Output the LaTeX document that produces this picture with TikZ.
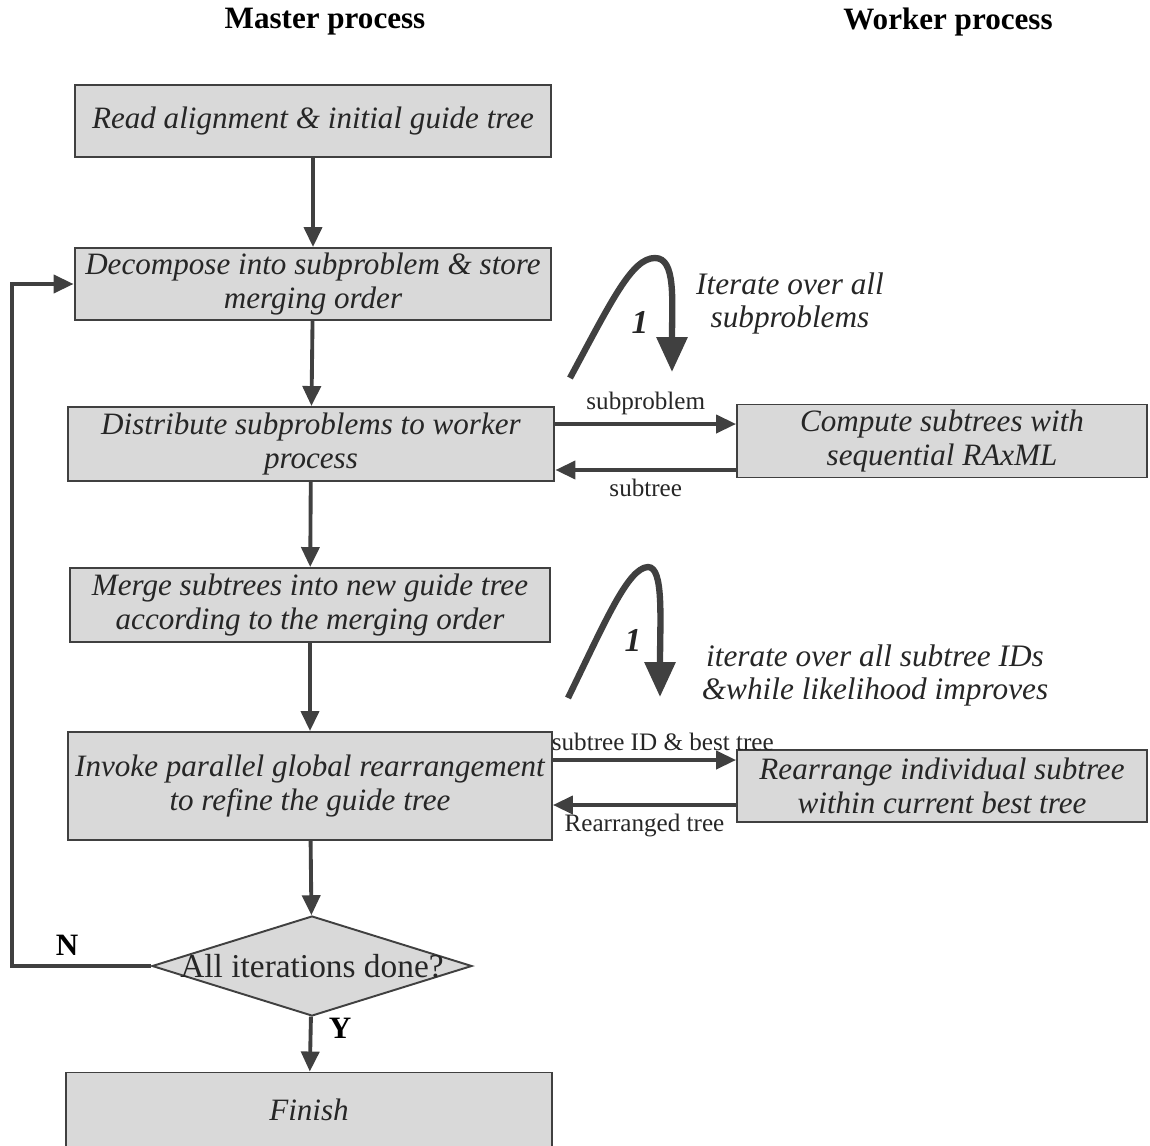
\documentclass[tikz,border=0pt]{standalone}
\usepackage{fontspec}
\setmainfont{Liberation Serif}
\usetikzlibrary{
positioning,
arrows.meta,
shapes.geometric,
calc
}
\definecolor{boxfill}{gray}{0.85}
\definecolor{edge}{gray}{0.25}
\definecolor{ink}{gray}{0.15}
\tikzset{
box/.style={
draw=edge,
line width=1.1pt,
fill=boxfill,
align=center,
inner sep=0pt,
text=ink,
font=\fontsize{17.7}{19.3}\selectfont\itshape
},
decision/.style={
diamond,
draw=edge,
line width=1.1pt,
fill=boxfill,
inner sep=0pt,
text=ink,
font=\fontsize{19}{21}\selectfont
},
arrow/.style={
-{Triangle[length=4mm,width=3.6mm]},
line width=2.2pt,
draw=edge
},
loop/.style={
-{Triangle[length=7mm,width=6mm]},
line width=3.6pt,
draw=edge
},
msg/.style={
font=\fontsize{14.3}{16}\selectfont,
text=ink
},
note/.style={
align=center,
text=ink,
font=\fontsize{17.8}{18.8}\selectfont\itshape
},
head/.style={
font=\fontsize{17.7}{20}\selectfont\bfseries
}
}

\begin{document}
\begin{tikzpicture}[x=0.02cm, y=-0.02cm]
\useasboundingbox (0,0) rectangle (1150,1146);

% column headers
\node[head] (mhead) at (325,22) {Master process};
\node[head] (whead) at (948,22) {Worker process};

% master side
\node[box, minimum width=9.54cm, minimum height=1.44cm] (read) at (313,121) {Read alignment \& initial guide tree};
\node[box, minimum width=9.54cm, minimum height=1.44cm] (dec) at (313,284) {Decompose into subproblem \& store\\merging order};
\node[box, minimum width=9.74cm, minimum height=1.48cm] (dist) at (311,444) {Distribute subproblems to worker\\process};
\node[box, minimum width=9.6cm, minimum height=1.48cm] (merge) at (310,605) {Merge subtrees into new guide tree\\according to the merging order};
\node[box, minimum width=9.68cm, minimum height=2.16cm] (inv) at (310,786) {Invoke parallel global rearrangement\\to refine the guide tree};
\node[decision, minimum width=6.4cm, minimum height=2cm] (done) at (312,966) {\makebox[0pt][c]{All iterations done?}};
\node[box, minimum width=9.72cm, minimum height=1.5cm] (fin) at (309,1110) {Finish};

% worker side
\node[box, minimum width=8.2cm, minimum height=1.46cm] (comp) at (942,441) {Compute subtrees with\\sequential RAxML};
\node[box, minimum width=8.2cm, minimum height=1.44cm] (rearr) at (942,786) {Rearrange individual subtree\\within current best tree};

% main flow
\draw[arrow] (read) -- (dec);
\draw[arrow] (dec) -- (dist);
\draw[arrow] (dist) -- (merge);
\draw[arrow] (merge) -- (inv);
\draw[arrow] (inv) -- (done);
\draw[arrow] (done) -- (fin);

% loop back when not done
\coordinate (back) at (12,284);
\draw[arrow] (done.west) -| (back) -- (dec.west);
\node[head] (no) at (67,945) {N};
\node[head] (yes) at (340,1028) {Y};

% messages between master and worker
\draw[arrow] ([yshift=0.4cm]dist.east) -- ([yshift=0.4cm]dist.east -| comp.west)
  node[msg, midway, above=1pt] (sendp) {subproblem};
\draw[arrow] ([yshift=-0.58cm]comp.west) -- ([yshift=-0.58cm]comp.west -| dist.east)
  node[msg, midway, below=1pt] (recvt) {subtree};
\draw[arrow] ([yshift=0.52cm]rearr.west -| inv.east) -- ([yshift=0.52cm]rearr.west)
  node[msg, pos=0.6, above=1pt] (sendb) {subtree ID \& best tree};
\draw[arrow] ([yshift=-0.38cm]rearr.west) -- ([yshift=-0.38cm]rearr.west -| inv.east)
  node[msg, pos=0.5, below=1pt] (recvr) {Rearranged tree};

% iteration loops
\draw[loop] (570,378) .. controls (612,300) and (632,258) .. (655,258)
  .. controls (676,258) and (672,300) .. (672,372);
\node[note, font=\fontsize{19}{20}\selectfont\bfseries\itshape] (one1) at (640,322) {1};
\node[note] (it1) at (790,303) {Iterate over all\\subproblems};

\draw[loop] (568,698) .. controls (606,620) and (628,568) .. (648,567)
  .. controls (664,567) and (660,620) .. (660,697);
\node[note, font=\fontsize{19}{20}\selectfont\bfseries\itshape] (one2) at (633,640) {1};
\node[note] (it2) at (875,675) {iterate over all subtree IDs\\\&while likelihood improves};

\end{tikzpicture}
\end{document}
